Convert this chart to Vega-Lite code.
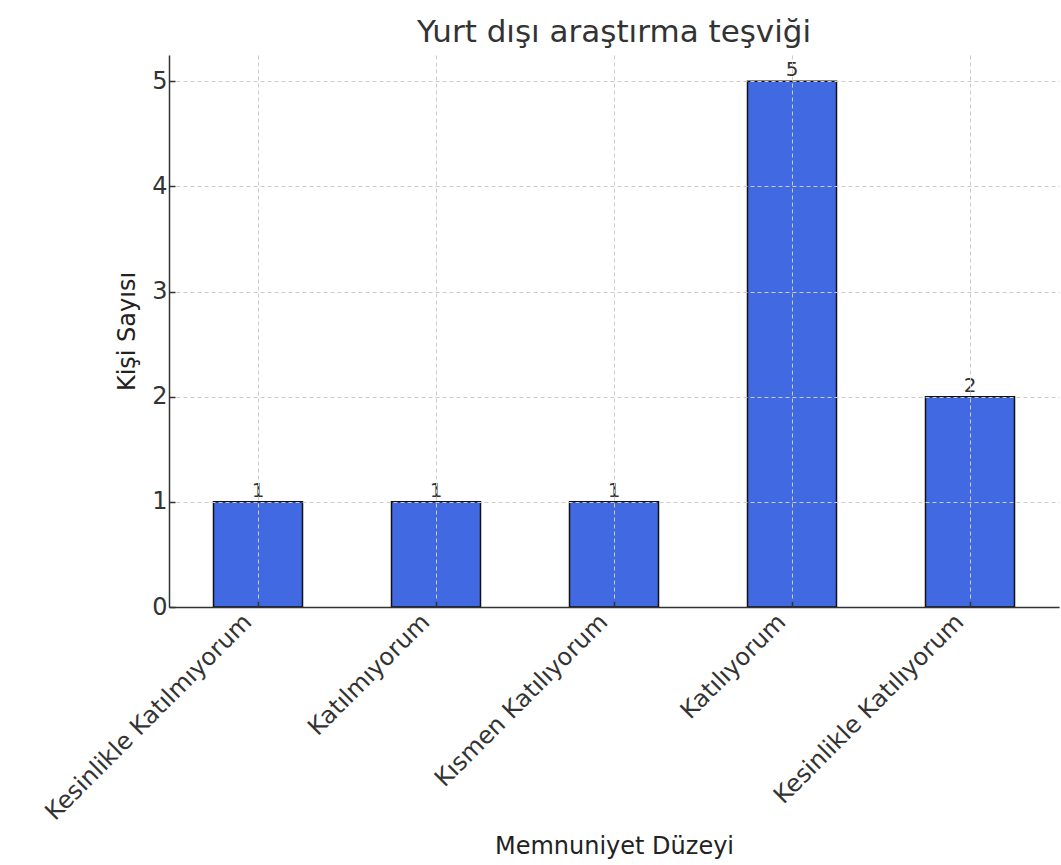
{
  "$schema": "https://vega.github.io/schema/vega-lite/v6.json",
  "width": 890,
  "height": 552,
  "autosize": "none",
  "padding": {"left": 169, "top": 55, "right": 2, "bottom": 258},
  "background": "white",
  "title": {"text": "Yurt dışı araştırma teşviği", "font": "DejaVu Sans", "fontSize": 31, "fontWeight": "normal", "color": "#333333", "offset": 6, "anchor": "middle"},
  "config": {
    "view": {"stroke": null},
    "font": "DejaVu Sans",
    "axis": {
      "labelFont": "DejaVu Sans", "titleFont": "DejaVu Sans",
      "labelColor": "#333333", "titleColor": "#222222",
      "titleFontWeight": "normal",
      "domainColor": "#333333", "domainWidth": 1.5,
      "tickColor": "#333333", "tickWidth": 1.5,
      "grid": true, "gridColor": "#cccccc", "gridDash": [4, 3], "gridWidth": 1
    }
  },
  "data": {"values": [
    {"kategori": "Kesinlikle Katılmıyorum", "sayi": 1},
    {"kategori": "Katılmıyorum", "sayi": 1},
    {"kategori": "Kısmen Katılıyorum", "sayi": 1},
    {"kategori": "Katılıyorum", "sayi": 5},
    {"kategori": "Kesinlikle Katılıyorum", "sayi": 2}
  ]},
  "encoding": {
    "x": {"field": "kategori", "type": "nominal", "sort": null,
      "scale": {"paddingInner": 0.5, "paddingOuter": 0.25},
      "axis": {"title": "Memnuniyet Düzeyi", "labelAngle": -45, "labelFontSize": 24, "titleFontSize": 24, "labelLimit": 0,
        "bandPosition": 0.5, "tickSize": -6, "labelPadding": 22, "labelOffset": -5, "titlePadding": 27, "zindex": 1, "labelAlign": "right", "labelBaseline": "alphabetic"}},
    "y": {"field": "sayi", "type": "quantitative",
      "scale": {"domain": [0, 5.25], "nice": false},
      "axis": {"title": "Kişi Sayısı", "values": [0, 1, 2, 3, 4, 5], "format": "d", "labelFontSize": 24, "titleFontSize": 24,
        "tickSize": -6, "labelPadding": 8, "titlePadding": 12, "zindex": 1}}
  },
  "layer": [
    {"mark": {"type": "bar", "color": "#4169E1", "stroke": "#111111", "strokeWidth": 1.5}},
    {"mark": {"type": "text", "baseline": "bottom", "dy": -1, "fontSize": 20, "color": "#333333", "font": "DejaVu Sans"},
      "encoding": {"text": {"field": "sayi", "type": "quantitative"}}}
  ]
}
